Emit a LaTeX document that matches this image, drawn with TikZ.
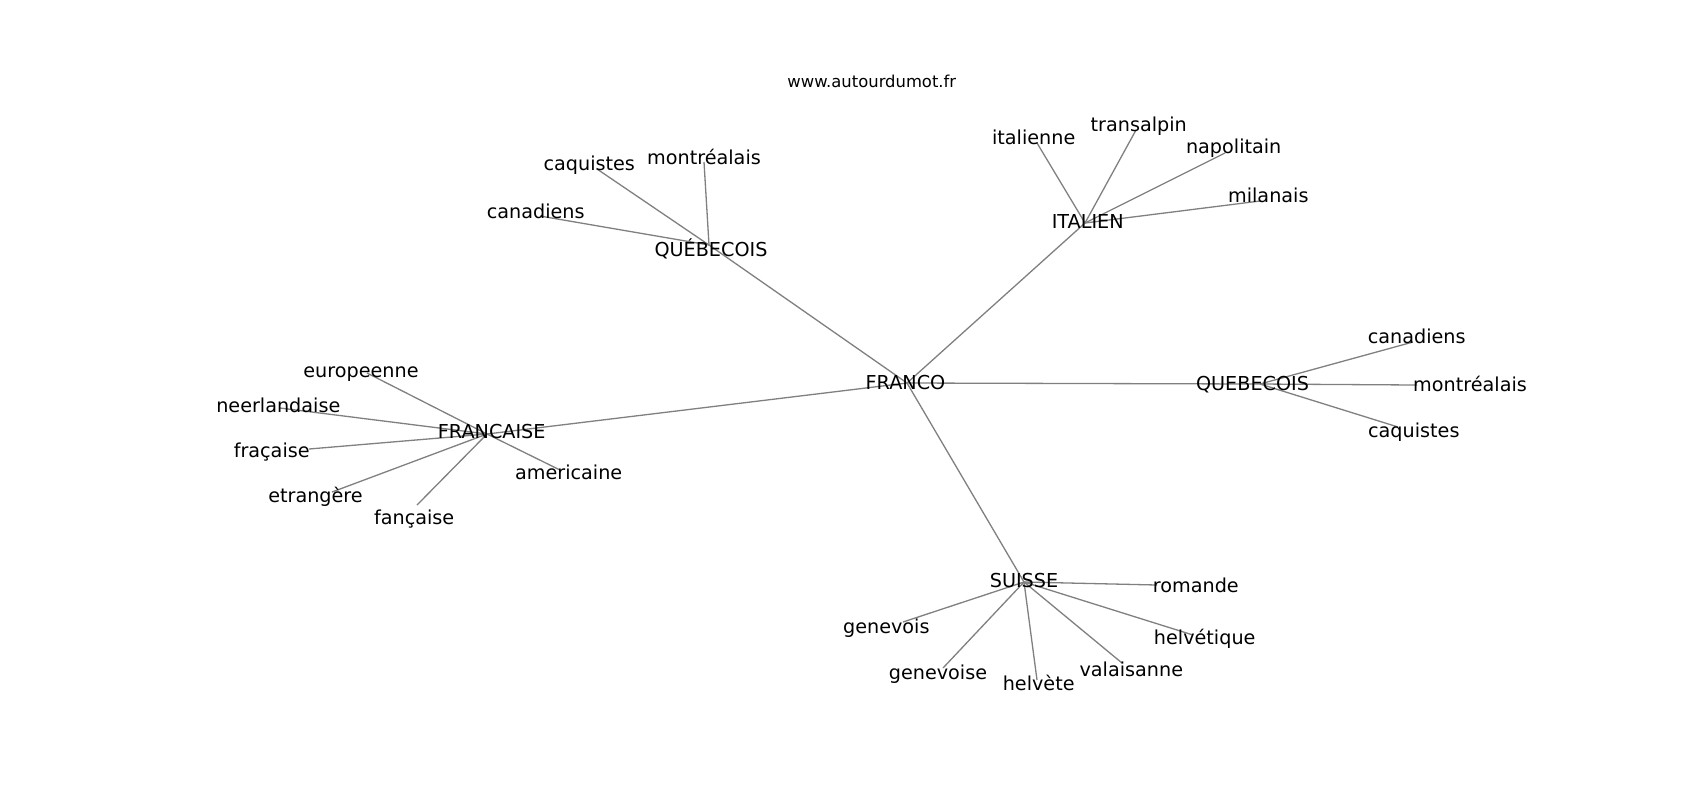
\documentclass[tikz,border=0pt]{standalone}
\usepackage{fontspec}
\setmainfont{DejaVu Sans}
\begin{document}
\begin{tikzpicture}[x=0.5pt,y=-0.5pt,
  edge/.style={draw=gray, line width=0.65pt},
  lab/.style={font=\fontsize{9.6}{11}\selectfont, inner sep=0pt, anchor=base, yshift=-3.5pt, text=black},
  ttl/.style={font=\fontsize{8.2}{10}\selectfont, inner sep=0pt, anchor=base, yshift=-2.6pt, text=black}]
\useasboundingbox (0,0) rectangle (1700,800);
\fill[white] (0,0) rectangle (1700,800);
% node points
\coordinate (F) at (907,383);
\coordinate (Q1) at (709,245);
\coordinate (IT) at (1085,223);
\coordinate (Q2) at (1260,384);
\coordinate (FR) at (487,434);
\coordinate (SU) at (1024,582);
\coordinate (q1a) at (540,216);
\coordinate (q1b) at (597,169);
\coordinate (q1c) at (704,162);
\coordinate (ita) at (1037,143);
\coordinate (itb) at (1136,130);
\coordinate (itc) at (1225,153);
\coordinate (itd) at (1260,201);
\coordinate (q2a) at (1413,342);
\coordinate (q2b) at (1417,385);
\coordinate (q2c) at (1398,427);
\coordinate (fra) at (367,373);
\coordinate (frb) at (280,408);
\coordinate (frc) at (309,449);
\coordinate (frd) at (332,492);
\coordinate (fre) at (417,505);
\coordinate (frf) at (560,470);
\coordinate (sua) at (1157,585);
\coordinate (sub) at (903,622);
\coordinate (suc) at (1193,635);
\coordinate (sud) at (943,668);
\coordinate (sue) at (1037,680);
\coordinate (suf) at (1122,663);
% edges
\foreach \a/\b in {F/Q1,F/IT,F/Q2,F/FR,F/SU,
  Q1/q1a,Q1/q1b,Q1/q1c,
  IT/ita,IT/itb,IT/itc,IT/itd,
  Q2/q2a,Q2/q2b,Q2/q2c,
  FR/fra,FR/frb,FR/frc,FR/frd,FR/fre,FR/frf,
  SU/sua,SU/sub,SU/suc,SU/sud,SU/sue,SU/suf}
  \draw[edge] (\a) -- (\b);
% labels
\node[ttl] (title) at (871.8,82.5) {www.autourdumot.fr};
\node[lab] (lF) at (905.5,382) {FRANCO};
\node[lab] (lQ1) at (711,249) {QUÉBECOIS};
\node[lab] (lIT) at (1087.7,221.5) {ITALIEN};
\node[lab] (lQ2) at (1252.5,383.3) {QUEBECOIS};
\node[lab] (lFR) at (491.7,431.7) {FRANCAISE};
\node[lab] (lSU) at (1024,580) {SUISSE};
\node[lab] (lq1a) at (535.7,211.7) {canadiens};
\node[lab] (lq1b) at (589.3,163.3) {caquistes};
\node[lab] (lq1c) at (704,157.3) {montréalais};
\node[lab] (lita) at (1033.7,137.3) {italienne};
\node[lab] (litb) at (1138.7,124) {transalpin};
\node[lab] (litc) at (1233.7,146.7) {napolitain};
\node[lab] (litd) at (1268.3,195.7) {milanais};
\node[lab] (lq2a) at (1416.7,336.7) {canadiens};
\node[lab] (lq2b) at (1470,384.7) {montréalais};
\node[lab] (lq2c) at (1413.8,430) {caquistes};
\node[lab] (lfra) at (361,370) {europeenne};
\node[lab] (lfrb) at (278.3,405) {neerlandaise};
\node[lab] (lfrc) at (271.7,450) {fraçaise};
\node[lab] (lfrd) at (315.5,495) {etrangère};
\node[lab] (lfre) at (414.2,517.7) {fançaise};
\node[lab] (lfrf) at (568.7,472.7) {americaine};
\node[lab] (lsua) at (1195.8,585) {romande};
\node[lab] (lsub) at (886.3,626.7) {genevois};
\node[lab] (lsuc) at (1204.7,637.3) {helvétique};
\node[lab] (lsud) at (938,672.3) {genevoise};
\node[lab] (lsue) at (1038.7,683.3) {helvète};
\node[lab] (lsuf) at (1131.3,669.3) {valaisanne};
\end{tikzpicture}
\end{document}
